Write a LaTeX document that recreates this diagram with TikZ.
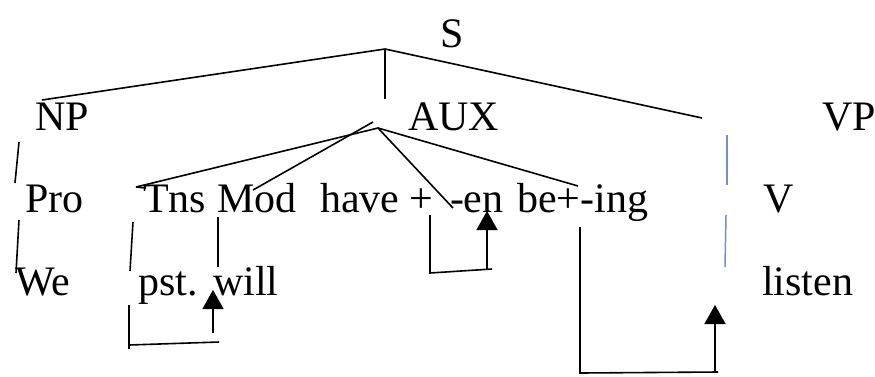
\documentclass[tikz,border=0pt]{standalone}
\usepackage{fontspec}
\setmainfont{Liberation Serif}
\usetikzlibrary{arrows.meta}
\definecolor{branchblue}{RGB}{115,145,200}
\tikzset{
  word/.style={anchor=base west,inner sep=0pt,outer sep=0pt,
               font=\fontsize{42}{50}\selectfont},
  branch/.style={line width=1.6pt,black},
  vbranch/.style={line width=1.5pt,branchblue},
  move/.style={line width=1.6pt,black},
  hop/.style={line width=1.6pt,black,-{Triangle[width=21pt,length=19pt]}}
}
\begin{document}
\begin{tikzpicture}[x=1pt,y=-1pt]
\useasboundingbox (0,0) rectangle (875,376);

% category labels
\node[word] (S)   at (440,47)  {S};
\node[word] (NP)  at (35,130)  {NP};
\node[word] (AUX) at (408,130) {AUX};
\node[word] (VP)  at (822,130) {VP};
\node[word] (Pro) at (25,212)  {Pro};
\node[word] (Tns) at (143,212) {Tns};
\node[word] (Mod) at (217,212) {Mod};
\node[word] (have) at (320,212) {have +};
\node[word] (en)  at (450,212) {-en};
\node[word] (bing) at (517,212) {be+-ing};
\node[word] (V)   at (763,212) {V};
% words
\node[word] (We)  at (15,295)  {We};
\node[word] (pst) at (138,295) {pst.};
\node[word] (will) at (213,295) {will};
\node[word] (listen) at (762,295) {listen};

% branching points and line ends
\coordinate (sroot) at (385,49);
\coordinate (npend) at (42,100);
\coordinate (auxtop) at (385,99);
\coordinate (vpend) at (702,118);
\coordinate (auxroot) at (378,128);
\coordinate (auxroot2) at (373,122);
\coordinate (tnsend) at (136,187);
\coordinate (modend) at (253,190);
\coordinate (haveend) at (453,208);
\coordinate (beend) at (578,186);

% S
\draw[branch] (npend) -- (sroot) -- (vpend);
\draw[branch] (sroot) -- (auxtop);
% AUX
\draw[branch] (tnsend) -- (auxroot) -- (haveend);
\draw[branch] (auxroot) -- (beend);
\draw[branch] (auxroot2) -- (modend);
\draw[branch] (tnsend) -- ++(10,1);

% NP -> Pro -> We
\coordinate (np1) at (19,142);
\coordinate (np2) at (15,183);
\coordinate (pr1) at (19,220);
\coordinate (pr2) at (16,273);
\draw[branch] (np1) -- (np2);
\draw[branch] (pr1) -- (pr2);
% Tns -> pst., Mod -> will
\coordinate (tn1) at (133,222);
\coordinate (tn2) at (130,271);
\coordinate (md1) at (218,217);
\coordinate (md2) at (218,267);
\draw[branch] (tn1) -- (tn2);
\draw[branch] (md1) -- (md2);
% VP -> V -> listen
\coordinate (vp1) at (727,135);
\coordinate (vp2) at (727,185);
\coordinate (vv1) at (726,215);
\coordinate (vv2) at (725,267);
\draw[vbranch] (vp1) -- (vp2);
\draw[vbranch] (vv1) -- (vv2);

% affix hopping: pst. -> will
\coordinate (a1) at (129,305);
\coordinate (a2) at (129,349);
\coordinate (a3) at (219,342);
\coordinate (a4) at (213,333);
\coordinate (a5) at (213,290);
\draw[move] (a1) -- (a2);
\draw[move] (a2 |- 0,345) -- (a3);
\draw[hop] (a4) -- (a5);

% -en -> have
\coordinate (b1) at (430,215);
\coordinate (b2) at (430,273);
\coordinate (b3) at (492,269);
\coordinate (b4) at (487,269);
\coordinate (b5) at (487,211);
\draw[move] (b1) -- (b2) -- (b3);
\draw[hop] (b4) -- (b5);

% -ing -> listen
\coordinate (c1) at (580,227);
\coordinate (c2) at (580,373);
\coordinate (c3) at (718,372);
\coordinate (c4) at (715,372);
\coordinate (c5) at (715,305);
\draw[move] (c1) -- (c2) -- (c3);
\draw[hop] (c4) -- (c5);
\end{tikzpicture}
\end{document}
